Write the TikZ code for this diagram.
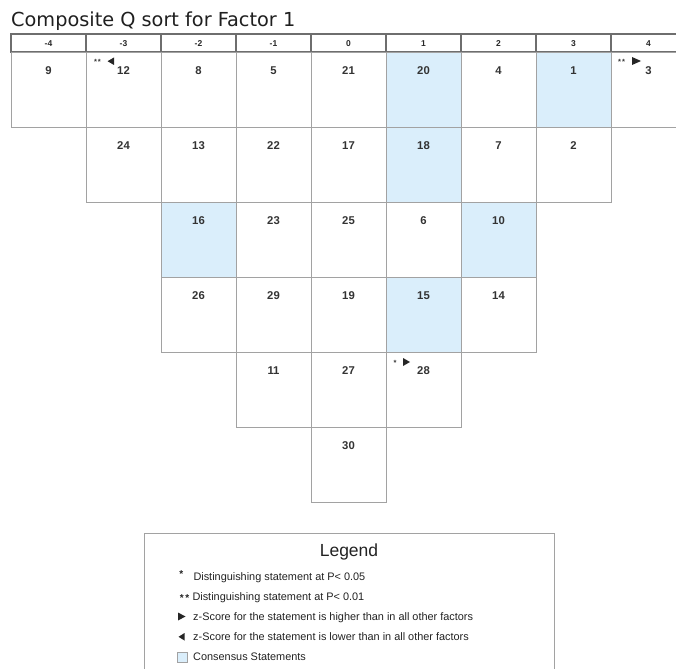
\documentclass[tikz,border=0pt]{standalone}
\usepackage{fontspec}
\setmainfont{Liberation Sans}
\newfontfamily\titlefont{DejaVu Sans}
\definecolor{cons}{HTML}{DAEEFB}
\definecolor{cellline}{HTML}{A2A2A2}
\definecolor{headline}{HTML}{6E6E6E}
\definecolor{numtxt}{HTML}{333333}
\definecolor{legtxt}{HTML}{222222}
\tikzset{
  cellbox/.style={draw=cellline, line width=0.9pt, minimum width=75pt, minimum height=75pt, inner sep=0pt, outer sep=0pt},
  consbox/.style={cellbox, fill=cons},
  headbox/.style={draw=headline, line width=1.2pt, minimum width=75pt, minimum height=18pt, inner sep=0pt, outer sep=0pt},
  numlabel/.style={font=\bfseries\fontsize{11.3}{13}\selectfont, text=numtxt, inner sep=0pt, anchor=base},
  headlabel/.style={font=\bfseries\fontsize{8.5}{10}\selectfont, text=black!85, inner sep=0pt, anchor=base},
  starlabel/.style={font=\bfseries\fontsize{7.5}{8}\selectfont, text=numtxt, inner sep=0pt, anchor=base},
  tri/.style={fill=black!85, draw=none},
  legtext/.style={font=\fontsize{10.9}{13}\selectfont, text=legtxt, inner sep=0pt, anchor=base west},
  legstar/.style={font=\bfseries\fontsize{10}{12}\selectfont, text=legtxt, inner sep=0pt, anchor=base},
}
\newcommand{\qcell}[4]{%
  \node[#4] (c#3) at ({11+75*#1+37.5},{52+75*(#2-1)+37.5}) {};
  \node[numlabel] (n#3) at ({11+75*#1+37.5},{74.5+75*(#2-1)}) {#3};}
\newcommand{\qhead}[2]{%
  \node[headbox] (h#1) at ({11+75*#1+37.5},43) {};
  \node[headlabel] (hl#1) at ({11+75*#1+37.5},47) {#2};}
\begin{document}
\begin{tikzpicture}[x=1pt,y=-1pt]
\path[use as bounding box] (0,0) rectangle (676,668);
\clip (0,0) rectangle (676,668);
% title
\node[anchor=base west, inner sep=0pt, font=\titlefont\fontsize{19.3}{22}\selectfont, text=black!88] (title) at (11,27) {Composite Q sort for Factor 1};
% header
\qhead{0}{-4}
\qhead{1}{-3}
\qhead{2}{-2}
\qhead{3}{-1}
\qhead{4}{0}
\qhead{5}{1}
\qhead{6}{2}
\qhead{7}{3}
\qhead{8}{4}
% column -4
\qcell{0}{1}{9}{cellbox}
% column -3
\qcell{1}{1}{12}{cellbox}
\qcell{1}{2}{24}{cellbox}
% column -2
\qcell{2}{1}{8}{cellbox}
\qcell{2}{2}{13}{cellbox}
\qcell{2}{3}{16}{consbox}
\qcell{2}{4}{26}{cellbox}
% column -1
\qcell{3}{1}{5}{cellbox}
\qcell{3}{2}{22}{cellbox}
\qcell{3}{3}{23}{cellbox}
\qcell{3}{4}{29}{cellbox}
\qcell{3}{5}{11}{cellbox}
% column 0
\qcell{4}{1}{21}{cellbox}
\qcell{4}{2}{17}{cellbox}
\qcell{4}{3}{25}{cellbox}
\qcell{4}{4}{19}{cellbox}
\qcell{4}{5}{27}{cellbox}
\qcell{4}{6}{30}{cellbox}
% column 1
\qcell{5}{1}{20}{consbox}
\qcell{5}{2}{18}{consbox}
\qcell{5}{3}{6}{cellbox}
\qcell{5}{4}{15}{consbox}
\qcell{5}{5}{28}{cellbox}
% column 2
\qcell{6}{1}{4}{cellbox}
\qcell{6}{2}{7}{cellbox}
\qcell{6}{3}{10}{consbox}
\qcell{6}{4}{14}{cellbox}
% column 3
\qcell{7}{1}{1}{consbox}
\qcell{7}{2}{2}{cellbox}
% column 4
\qcell{8}{1}{3}{cellbox}
% markers
\node[starlabel] (s12) at (97.5,64.5) {*\kern1pt*};
\path[tri] (114,57.5) -- (114,65) -- (107.5,61.2) -- cycle;
\node[starlabel] (s3) at (621.5,64.5) {*\kern1pt*};
\path[tri] (632,57) -- (632,65) -- (641,61) -- cycle;
\node[starlabel] (s28) at (395,365) {*};
\path[tri] (403,358) -- (403,366) -- (410,362) -- cycle;
% legend
\node[draw=cellline, line width=0.9pt, minimum width=410pt, minimum height=160pt, inner sep=0pt, anchor=north west] (legbox) at (144,533) {};
\node[anchor=base, inner sep=0pt, font=\fontsize{17.5}{20}\selectfont, text=legtxt] (legtitle) at (349,556) {Legend};
\node[legstar] (l1s) at (181.3,577) {*};
\node[legstar] (l2s) at (184.5,601.5) {*\kern1.5pt*};
\node[legtext] (l1) at (193.3,580) {Distinguishing statement at P< 0.05};
\node[legtext] (l2) at (192.3,600) {Distinguishing statement at P< 0.01};
\path[tri] (178,612.5) -- (178,620.5) -- (185.5,616.5) -- cycle;
\node[legtext] (l3) at (193,620) {z-Score for the statement is higher than in all other factors};
\path[tri] (184.5,633) -- (184.5,640.5) -- (178.5,636.8) -- cycle;
\node[legtext] (l4) at (193,640) {z-Score for the statement is lower than in all other factors};
\node[draw=cellline, fill=cons, line width=0.8pt, minimum size=10pt, inner sep=0pt] (l5s) at (182,657.5) {};
\node[legtext] (l5) at (193,660) {Consensus Statements};
\end{tikzpicture}
\end{document}
